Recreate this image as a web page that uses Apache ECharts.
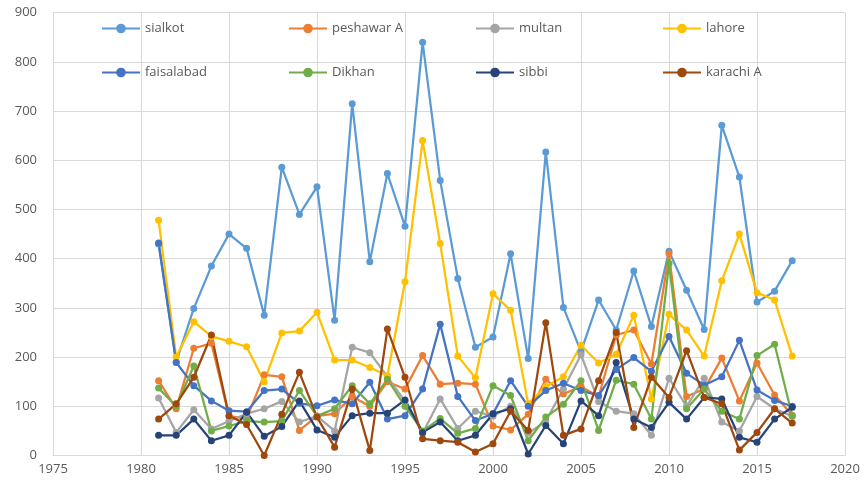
<!DOCTYPE html>
<html>
<head>
<meta charset="utf-8">
<script src="https://cdn.jsdelivr.net/npm/echarts@6/dist/echarts.min.js"></script>
<style>
  html, body { margin: 0; padding: 0; background: #fff; }
  #chart { width: 866px; height: 488px; }
</style>
</head>
<body>
<div id="chart"></div>
<script>
// Station series, one value per year
var years = [1981,1982,1983,1984,1985,1986,1987,1988,1989,1990,1991,1992,1993,1994,1995,1996,1997,1998,1999,2000,2001,2002,2003,2004,2005,2006,2007,2008,2009,2010,2011,2012,2013,2014,2015,2016,2017];

var sialkot    = [430,190,299,385,450,421,285,586,490,546,275,715,394,573,466,840,559,360,220,241,410,197,617,301,211,316,255,375,262,415,336,256,671,566,312,334,396];
var peshawarA  = [152,95,218,228,80,75,164,160,51,80,85,120,100,150,135,203,145,147,145,60,52,84,155,125,140,120,245,255,186,410,120,135,198,111,188,123,82];
var multan     = [117,47,93,54,70,85,95,110,68,80,50,220,209,160,110,45,115,55,90,80,100,45,70,135,205,110,90,85,41,157,100,157,68,50,120,95,80];
var lahore     = [478,200,272,242,232,221,150,249,253,291,194,194,179,162,353,640,431,202,158,329,295,105,140,160,224,188,206,285,115,287,255,202,355,450,331,316,202];
var faisalabad = [432,189,142,111,91,89,132,135,106,101,113,105,149,74,81,135,267,120,71,85,152,100,132,147,132,122,175,199,171,242,167,143,160,234,133,112,100];
var dikhan     = [137,100,182,50,60,70,68,70,132,80,95,142,105,155,100,50,75,45,55,142,122,30,78,104,152,51,153,145,74,390,95,135,90,74,203,226,81];
var sibbi      = [41,41,74,30,41,88,39,59,111,52,37,81,86,86,113,47,68,30,41,85,95,3,61,24,111,81,189,74,57,108,74,118,115,37,27,74,98];
var karachiA   = [74,105,159,245,81,63,0,84,169,78,17,135,10,257,159,34,30,27,7,24,90,51,270,41,54,152,250,57,159,118,213,118,105,11,47,95,66];

var seriesNames  = ['sialkot','peshawar A','multan','lahore','faisalabad','Dikhan','sibbi','karachi A'];
var seriesValues = [sialkot, peshawarA, multan, lahore, faisalabad, dikhan, sibbi, karachiA];
var seriesColors = ['#5B9BD5','#ED7D31','#A5A5A5','#FFC000','#4472C4','#70AD47','#264478','#9E480E'];

var FONT = "'Open Sans', 'Liberation Sans', sans-serif";
var TEXT = '#595959';

function pairs(vals) {
  return years.map(function (y, i) { return [y, vals[i]]; });
}

var series = seriesNames.map(function (name, i) {
  return {
    name: name,
    type: 'line',
    data: pairs(seriesValues[i]),
    symbol: 'circle',
    symbolSize: 7,
    color: seriesColors[i],
    lineStyle: { width: 2.25, color: seriesColors[i] },
    itemStyle: { color: seriesColors[i] },
    emphasis: { disabled: true },
    animation: false
  };
});

// Two rows of four legend entries, each placed on its own column
var legendCols = [96, 283, 470, 657];
var legendRows = [17, 61];
var legends = seriesNames.map(function (name, i) {
  return {
    data: [name],
    left: legendCols[i % 4],
    top: legendRows[Math.floor(i / 4)],
    itemWidth: 38,
    itemHeight: 12,
    itemGap: 4,
    textStyle: { color: TEXT, fontSize: 13, fontFamily: FONT },
    selectedMode: false
  };
});

var chart = echarts.init(document.getElementById('chart'), null, { renderer: 'canvas' });
chart.setOption({
  backgroundColor: '#ffffff',
  animation: false,
  legend: legends,
  grid: { left: 53, right: 21, top: 12.7, bottom: 32.5, containLabel: false },
  xAxis: {
    type: 'value',
    min: 1975,
    max: 2020,
    interval: 5,
    axisLine: { show: true, lineStyle: { color: '#D9D9D9', width: 1 } },
    axisTick: { show: false },
    splitLine: { show: true, lineStyle: { color: '#D9D9D9', width: 1 } },
    axisLabel: {
      color: TEXT, fontSize: 13, fontFamily: FONT, margin: 7,
      formatter: function (v) { return String(v); }
    }
  },
  yAxis: {
    type: 'value',
    min: 0,
    max: 900,
    interval: 100,
    axisLine: { show: false },
    axisTick: { show: false },
    splitLine: { show: true, lineStyle: { color: '#D9D9D9', width: 1 } },
    axisLabel: { color: TEXT, fontSize: 13, fontFamily: FONT, margin: 16 }
  },
  series: series
});
</script>
</body>
</html>
